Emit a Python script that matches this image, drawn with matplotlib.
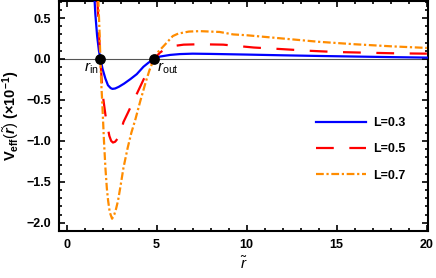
import matplotlib
matplotlib.use("Agg")
import matplotlib.pyplot as plt
from matplotlib.ticker import MultipleLocator

plt.rcParams['font.family'] = ['Liberation Sans', 'DejaVu Sans']
plt.rcParams['mathtext.fontset'] = 'custom'
plt.rcParams['mathtext.rm'] = 'Liberation Sans'
plt.rcParams['mathtext.it'] = 'Liberation Sans:italic'
plt.rcParams['mathtext.bf'] = 'Liberation Sans:bold'
plt.rcParams['mathtext.bfit'] = 'Liberation Sans:bold:italic'

# values (V in units of 1e-1)
r_03 = [1.40, 1.50, 1.60, 1.70, 1.80, 1.88, 2.00, 2.16, 2.30, 2.45, 2.55, 2.70, 2.90, 3.20,
        3.55, 3.90, 4.27, 4.55, 4.85, 5.20, 5.76, 6.30, 7.00, 8.00, 9.00, 10.0, 12.0, 14.0,
        16.0, 18.0, 20.0]
v_03 = [1.60, 0.95, 0.55, 0.28, 0.10, 0.00, -0.12, -0.24, -0.32, -0.355, -0.365, -0.36, -0.34, -0.30,
        -0.245, -0.185, -0.095, -0.045, 0.00, 0.03, 0.05, 0.06, 0.065, 0.062, 0.058, 0.054, 0.045, 0.037,
        0.030, 0.023, 0.017]

r_05 = [1.45, 1.60, 1.72, 1.80, 1.88, 1.95, 2.05, 2.16, 2.27, 2.38, 2.48, 2.58, 2.70, 2.88,
        3.00, 3.16, 3.40, 3.70, 4.00, 4.30, 4.60, 4.85, 5.20, 5.60, 6.00, 6.50, 7.40, 8.70,
        10.4, 12.0, 13.5, 15.0, 16.6, 18.1, 20.0]
v_05 = [2.00, 1.20, 0.70, 0.33, 0.00, -0.25, -0.50, -0.68, -0.82, -0.94, -1.00, -1.02, -1.01, -0.96,
        -0.90, -0.77, -0.66, -0.52, -0.38, -0.24, -0.11, 0.00, 0.08, 0.14, 0.16, 0.175, 0.18, 0.175,
        0.14, 0.12, 0.10, 0.085, 0.077, 0.07, 0.065]

r_07 = [1.55, 1.70, 1.77, 1.83, 1.88, 1.93, 1.98, 2.08, 2.16, 2.24, 2.31, 2.40, 2.53, 2.65,
        2.75, 2.86, 3.00, 3.16, 3.40, 3.60, 3.82, 4.10, 4.40, 4.60, 4.85, 5.10, 5.40, 5.90,
        6.20, 6.80, 7.40, 8.50, 9.25, 10.0, 12.0, 14.0, 16.0, 18.0, 20.0]
v_07 = [2.50, 1.30, 0.70, 0.35, 0.00, -0.30, -0.51, -1.00, -1.33, -1.58, -1.73, -1.87, -1.95, -1.90,
        -1.83, -1.73, -1.55, -1.33, -1.08, -0.90, -0.74, -0.51, -0.28, -0.14, 0.00, 0.09, 0.16, 0.28,
        0.31, 0.335, 0.34, 0.33, 0.30, 0.29, 0.25, 0.21, 0.18, 0.155, 0.135]

r_pts = [1.88, 4.85]
pt_labels = [r"$r_{\rm in}$", r"$r_{\rm out}$"]

fig = plt.figure(figsize=(4.36, 2.78), dpi=100)
ax = fig.add_axes([0.136, 0.169, 0.845, 0.828])

ax.axhline(0, color='#555555', lw=0.8, zorder=1)
ax.plot(r_03, v_03, color='#0000FF', lw=1.6, label='L=0.3', zorder=3)
ax.plot(r_05, v_05, color='#FF0000', lw=1.6, ls=(0, (8, 7)), label='L=0.5', zorder=3)
ax.plot(r_07, v_07, color='#FF8C00', lw=1.6, ls=(0, (3.5, 1.2, 1, 1.2)), label='L=0.7', zorder=3)

ax.scatter(r_pts, [0, 0], s=45, color='black', zorder=5)
ax.text(r_pts[0] - 0.1, -0.11, pt_labels[0], fontsize=11, ha='right', va='center')
ax.text(r_pts[1] + 0.2, -0.11, pt_labels[1], fontsize=11, ha='left', va='center')

ax.set_xlim(-0.4, 20.05)
ax.set_ylim(-2.1, 0.71)
ax.xaxis.set_major_locator(MultipleLocator(5))
ax.xaxis.set_minor_locator(MultipleLocator(1))
ax.yaxis.set_major_locator(MultipleLocator(0.5))
ax.yaxis.set_minor_locator(MultipleLocator(0.1))
ax.yaxis.set_major_formatter(lambda v, p: f"{v:.1f}".replace('-', '\u2212'))
ax.tick_params(which='both', direction='in', top=True, right=True, width=1.2)
ax.tick_params(which='major', length=4, labelsize=9)
ax.tick_params(axis='y', which='major', pad=6)
ax.tick_params(axis='x', which='major', pad=6)
ax.tick_params(which='minor', length=2)
for lab in ax.get_xticklabels() + ax.get_yticklabels():
    lab.set_fontweight('bold')
for s in ax.spines.values():
    s.set_linewidth(1.5)

ax.set_xlabel(r"$\tilde{r}$", fontsize=11, labelpad=3)
ax.set_ylabel(r"$\mathbf{V}_{\mathbf{eff}}(\tilde{\mathbfit{r}})$ $\mathbf{(\times 10^{-1})}$",
              fontsize=10.5, labelpad=3)

ax.legend(loc='center left', bbox_to_anchor=(0.665, 0.355), frameon=False, handlelength=4.0,
          handletextpad=0.6, labelspacing=1.15, prop={'weight': 'bold', 'size': 9})

fig.savefig("out.png", dpi=100)
